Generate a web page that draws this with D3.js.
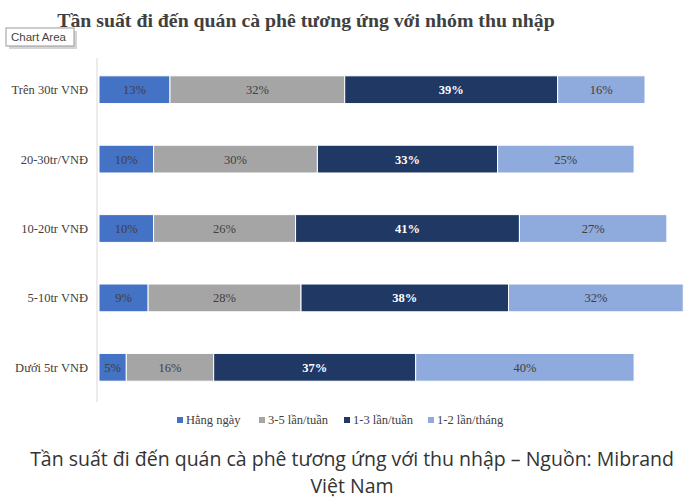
<!DOCTYPE html>
<html><head><meta charset="utf-8">
<script src="https://cdn.jsdelivr.net/npm/d3@7"></script>
<style>body{margin:0;background:#fff;}svg{display:block;}</style>
</head><body>
<script>
const categories = ["Trên 30tr VNĐ","20-30tr/VNĐ","10-20tr VNĐ","5-10tr VNĐ","Dưới 5tr VNĐ"];
const seriesNames = ["Hằng ngày","3-5 lần/tuần","1-3 lần/tuần","1-2 lần/tháng"];
const hangNgay = [13,10,10,9,5];
const ba5Tuan = [32,30,26,28,16];
const mot3Tuan = [39,33,41,38,37];
const mot2Thang = [16,25,27,32,40];
const colors = ["#4472C4","#A5A5A5","#203864","#8FAADC"];
const series = [hangNgay, ba5Tuan, mot3Tuan, mot2Thang];

const W=698,H=499;
const svg=d3.select("body").append("svg").attr("width",W).attr("height",H);
const serif="'Liberation Serif','DejaVu Serif',serif";

svg.append("text").attr("x",306).attr("y",27).attr("text-anchor","middle")
  .attr("font-family",serif).attr("font-weight","bold").attr("font-size",19.8).attr("fill","#404040")
  .text("Tần suất đi đến quán cà phê tương ứng với nhóm thu nhập");

const tb=svg.append("g");
tb.append("rect").attr("x",7).attr("y",29).attr("width",68).attr("height",18).attr("fill","#888").attr("opacity",0.35).attr("transform","translate(2,2)");
tb.append("rect").attr("x",6).attr("y",28).attr("width",68).attr("height",18).attr("fill","#fff").attr("stroke","#999");
tb.append("text").attr("x",11).attr("y",41).attr("font-family","'Liberation Sans',Arial,sans-serif").attr("font-size",11.5).attr("fill","#444").text("Chart Area");

const x=d3.scaleLinear().domain([0,100]).range([99,645]);
const y=d3.scaleBand().domain(categories).range([55,402]).paddingInner(0.6).paddingOuter(0.3);

svg.append("line").attr("x1",97).attr("x2",97).attr("y1",58).attr("y2",402).attr("stroke","#d9d9d9");

categories.forEach((c,i)=>{
  let acc=0;
  series.forEach((s,j)=>{
    const v=s[i];
    svg.append("rect").attr("x",x(acc)).attr("y",y(c)).attr("width",x(acc+v)-x(acc)).attr("height",y.bandwidth())
      .attr("fill",colors[j]).attr("stroke","#fff").attr("stroke-width",1);
    svg.append("text").attr("x",(x(acc)+x(acc+v))/2).attr("y",y(c)+y.bandwidth()/2+4.5).attr("text-anchor","middle")
      .attr("font-family",serif).attr("font-size",12.5)
      .attr("fill",j===2?"#fff":"#404040").attr("font-weight",j===2?"bold":"normal").text(v+"%");
    acc+=v;
  });
  svg.append("text").attr("x",88).attr("y",y(c)+y.bandwidth()/2+4.5).attr("text-anchor","end")
    .attr("font-family",serif).attr("font-size",12.5).attr("fill","#404040").text(c);
});

const lx=[177,259,344,428];
seriesNames.forEach((n,j)=>{
  svg.append("rect").attr("x",lx[j]).attr("y",417).attr("width",6).attr("height",6).attr("fill",colors[j]);
  svg.append("text").attr("x",lx[j]+9).attr("y",424).attr("font-family",serif).attr("font-size",12.5).attr("fill","#404040").text(n);
});

const cap=svg.append("text").attr("text-anchor","middle").attr("font-family","'Open Sans','Noto Sans',sans-serif").attr("font-size",19.5).attr("fill","#333");
cap.append("tspan").attr("x",352).attr("y",466).text("Tần suất đi đến quán cà phê tương ứng với thu nhập – Nguồn: Mibrand");
cap.append("tspan").attr("x",352).attr("y",493).text("Việt Nam");
</script>
</body></html>
